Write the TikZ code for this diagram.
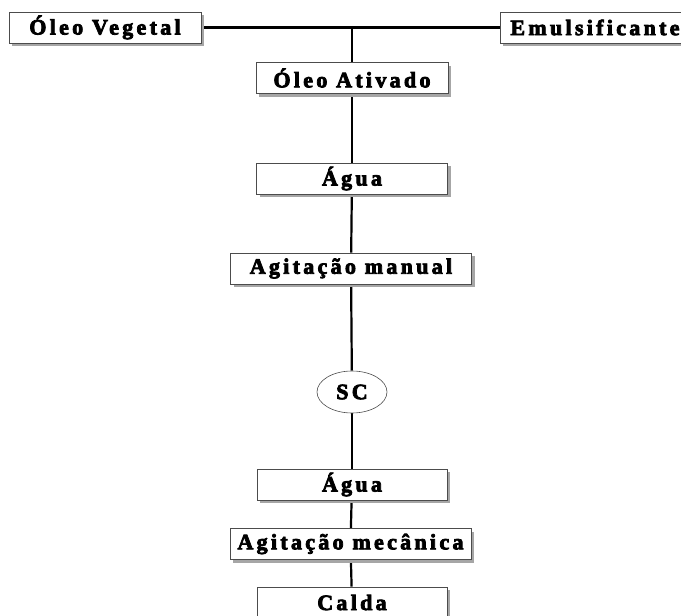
\documentclass[tikz,border=0pt]{standalone}
\usepackage{fontspec}
\setmainfont{Liberation Serif}[LetterSpace=15, BoldFeatures={FakeBold=3.5, LetterSpace=15}]
\usetikzlibrary{shapes.geometric,shadows,backgrounds}
\begin{document}
\begin{tikzpicture}[x=1pt,y=-1pt,
  procbox/.style={draw=gray!60!black, line width=0.6pt, fill=white, rectangle,
    inner sep=0pt, minimum height=31pt,
    font=\fontsize{22}{24}\selectfont\bfseries,
    drop shadow={shadow xshift=3pt, shadow yshift=-3pt, fill=gray!70, opacity=1}},
  roundbox/.style={draw=gray!60!black, line width=0.6pt, fill=white, ellipse,
    inner sep=0pt, minimum width=70pt, minimum height=42pt,
    font=\fontsize{22}{24}\selectfont\bfseries},
  link/.style={line width=2.2pt, black}]
\useasboundingbox (0,0) rectangle (681,616);
\node[procbox, minimum width=192pt] (ov) at (105,27.5) {Óleo Vegetal};
\node[procbox, minimum width=190pt] (em) at (595,27.5) {Emulsificante};
\node[procbox, minimum width=192pt] (oa) at (352,78) {Óleo Ativado};
\node[procbox, minimum width=191pt] (a1) at (352,178.5) {Água};
\node[procbox, minimum width=241pt] (am) at (351,268.5) {Agitação manual};
\node[roundbox] (sc) at (352,392) {SC};
\node[procbox, minimum width=190pt] (a2) at (352,484.5) {Água};
\node[procbox, minimum width=241pt] (mec) at (350.5,544) {Agitação mecânica};
\node[procbox, minimum width=190pt] (ca) at (352,602.5) {Calda};
\coordinate (j) at (352,28);
\begin{scope}[on background layer]
\draw[link] (ov.east) -- (em.west);
\draw[link] (j) -- (oa.north);
\draw[link] (oa) -- (a1);
\draw[link] (a1) -- (am);
\draw[link] (am) -- (sc);
\draw[link] (sc) -- (a2);
\draw[link] (a2) -- (mec);
\draw[link] (mec) -- (ca);
\end{scope}
\end{tikzpicture}
\end{document}
